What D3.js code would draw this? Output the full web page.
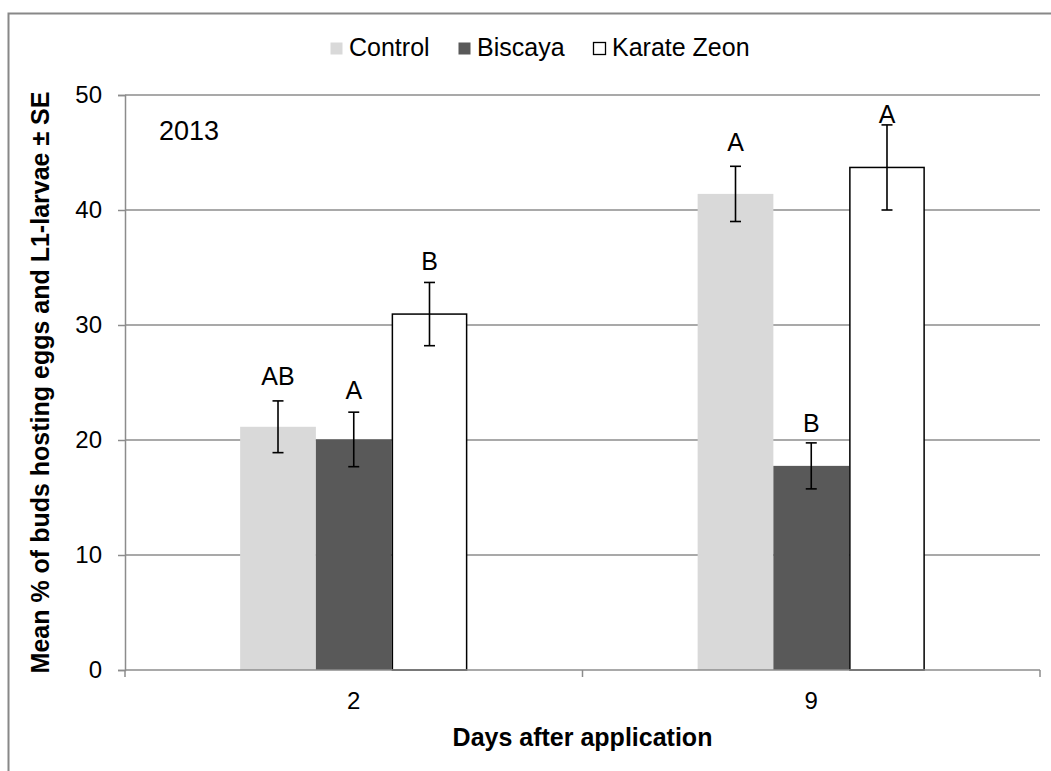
<!DOCTYPE html>
<html><head><meta charset="utf-8">
<script src="https://cdn.jsdelivr.net/npm/d3@7"></script>
<style>body{margin:0;background:#fff}svg{display:block}text{font-family:"Liberation Sans",Arial,sans-serif;fill:#000}</style>
</head><body>
<svg id="c" width="1051" height="771"></svg>
<script>
const categories = ["2", "9"];
const seriesNames = ["Control", "Biscaya", "Karate Zeon"];
const seriesColors = ["#d9d9d9", "#595959", "#ffffff"];
const controlMean = [21.15, 41.4];
const biscayaMean = [20.05, 17.75];
const karateMean = [30.95, 43.7];
const controlSE = [2.25, 2.4];
const biscayaSE = [2.37, 2.0];
const karateSE = [2.75, 3.7];
const controlLetters = ["AB", "A"];
const biscayaLetters = ["A", "B"];
const karateLetters = ["B", "A"];
const controlLetterAt = [24.8, 45.1];
const biscayaLetterAt = [23.6, 20.7];
const karateLetterAt = [34.8, 47.55];
const yTicks = [0, 10, 20, 30, 40, 50];

const means = [controlMean, biscayaMean, karateMean];
const ses = [controlSE, biscayaSE, karateSE];
const letters = [controlLetters, biscayaLetters, karateLetters];
const letterAt = [controlLetterAt, biscayaLetterAt, karateLetterAt];

const svg = d3.select("#c");
const L = 125, R = 1040, T = 95, B = 670;

// outer border
svg.append("rect").attr("x", 8.5).attr("y", 13.5).attr("width", 1060).attr("height", 780)
  .attr("fill", "none").attr("stroke", "#888").attr("stroke-width", 2);

const y = d3.scaleLinear().domain([0, 50]).range([B, T]);
const x0 = d3.scaleBand().domain(categories).range([L, R]).padding(0);
const x1 = d3.scaleBand().domain(seriesNames).range([0, x0.bandwidth()]).paddingInner(0).paddingOuter(1.52);

// gridlines
svg.append("g").selectAll("line").data(yTicks.filter(d => d > 0)).join("line")
  .attr("x1", L).attr("x2", R).attr("y1", d => y(d)).attr("y2", d => y(d))
  .attr("stroke", "#8c8c8c").attr("stroke-width", 1.5);

// y axis
const ya = svg.append("g").attr("transform", `translate(${L},0)`)
  .call(d3.axisLeft(y).tickValues(yTicks).tickSize(7).tickPadding(16));
ya.select(".domain").attr("stroke", "#8c8c8c").attr("stroke-width", 1.5);
ya.selectAll(".tick line").attr("stroke", "#8c8c8c").attr("stroke-width", 1.5);
ya.selectAll("text").attr("font-size", 24).attr("font-family", "Liberation Sans, Arial, sans-serif").attr("fill", "#000");

// bars
const rows = [];
categories.forEach((c, ci) => seriesNames.forEach((s, si) => rows.push({c, ci, s, si,
  v: means[si][ci], se: ses[si][ci], lt: letters[si][ci], la: letterAt[si][ci]})));

const g = svg.append("g");
g.selectAll("rect").data(rows).join("rect")
  .attr("x", d => x0(d.c) + x1(d.s) + (d.si === 2 ? 0.75 : 0))
  .attr("y", d => y(d.v))
  .attr("width", d => x1.bandwidth() - (d.si === 2 ? 1.5 : 0))
  .attr("height", d => B - y(d.v))
  .attr("fill", d => seriesColors[d.si])
  .attr("stroke", d => d.si === 2 ? "#000" : "none")
  .attr("stroke-width", 1.5);

// x axis
const xa = svg.append("g").attr("transform", `translate(0,${B})`);
xa.append("line").attr("x1", L).attr("x2", R).attr("stroke", "#8c8c8c").attr("stroke-width", 1.5);
const xTickPos = [L, ...categories.map(c => x0(c) + x0.bandwidth())];
xa.selectAll(".xt").data(xTickPos).join("line").attr("class", "xt")
  .attr("x1", d => d).attr("x2", d => d).attr("y1", 0).attr("y2", 7)
  .attr("stroke", "#8c8c8c").attr("stroke-width", 1.5);
xa.selectAll(".xl").data(categories).join("text").attr("class", "xl")
  .attr("x", d => x0(d) + x0.bandwidth() / 2).attr("y", 39)
  .attr("text-anchor", "middle").attr("font-size", 24).text(d => d);

// error bars
const eb = svg.append("g").attr("stroke", "#000").attr("stroke-width", 1.6);
rows.forEach(d => {
  const cx = x0(d.c) + x1(d.s) + x1.bandwidth() / 2;
  eb.append("line").attr("x1", cx).attr("x2", cx).attr("y1", y(d.v + d.se)).attr("y2", y(d.v - d.se));
  eb.append("line").attr("x1", cx - 5.5).attr("x2", cx + 5.5).attr("y1", y(d.v + d.se)).attr("y2", y(d.v + d.se));
  eb.append("line").attr("x1", cx - 5.5).attr("x2", cx + 5.5).attr("y1", y(d.v - d.se)).attr("y2", y(d.v - d.se));
});

// letters
svg.append("g").selectAll("text").data(rows).join("text")
  .attr("x", d => x0(d.c) + x1(d.s) + x1.bandwidth() / 2)
  .attr("y", d => y(d.la)).attr("text-anchor", "middle").attr("font-size", 25)
  .text(d => d.lt);

// year label
svg.append("text").attr("x", 159).attr("y", 140).attr("font-size", 27).text("2013");

// axis titles
svg.append("text").attr("x", (L + R) / 2).attr("y", 746).attr("text-anchor", "middle")
  .attr("font-size", 25).attr("font-weight", "bold").text("Days after application");
svg.append("text").attr("transform", `translate(49,${(T + B) / 2}) rotate(-90)`)
  .attr("text-anchor", "middle").attr("font-size", 25).attr("font-weight", "bold")
  .text("Mean % of buds hosting eggs and L1-larvae ± SE");

// legend
const legX = [330, 458, 593];
const lg = svg.append("g");
seriesNames.forEach((s, i) => {
  lg.append("rect").attr("x", legX[i] + 0.5).attr("y", 42.5).attr("width", 12).attr("height", 12)
    .attr("fill", seriesColors[i]).attr("stroke", i === 2 ? "#000" : "none").attr("stroke-width", 1.3);
  lg.append("text").attr("x", legX[i] + 19).attr("y", 56).attr("font-size", 25).text(s);
});
</script>
</body></html>
